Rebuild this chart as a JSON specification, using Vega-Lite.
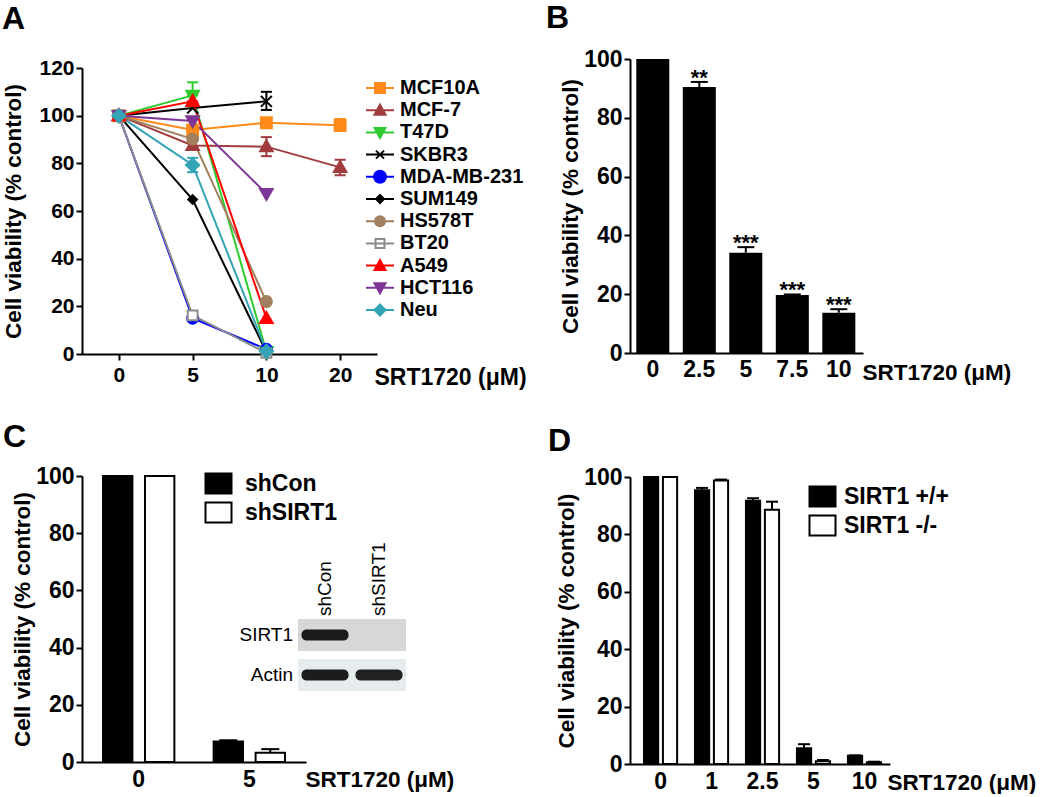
{
  "$schema": "https://vega.github.io/schema/vega-lite/v6.json",
  "padding": {"left": 2, "top": 2, "right": 0, "bottom": 0},
  "background": "white",
  "config": {
    "font": "Liberation Sans",
    "view": {"stroke": null},
    "axis": {"domainColor": "black", "domainWidth": 2, "tickColor": "black", "tickWidth": 2, "tickSize": 6, "labelFont": "Liberation Sans", "labelFontWeight": "bold", "labelFontSize": 23, "labelColor": "black", "titleFont": "Liberation Sans", "titleFontWeight": "bold", "titleFontSize": 22.5, "titleColor": "black", "grid": false},
    "axisY": {"labelPadding": 2},
    "title": {"font": "Liberation Sans", "fontSize": 32, "fontWeight": "bold", "anchor": "start", "frame": "group", "color": "black"},
    "legend": {"labelFont": "Liberation Sans", "labelFontWeight": "bold", "labelColor": "black"}
  },
  "datasets": {
    "a": [
      {"cell": "MCF10A", "dose": 0, "v": 100}, {"cell": "MCF10A", "dose": 5, "v": 94}, {"cell": "MCF10A", "dose": 10, "v": 97}, {"cell": "MCF10A", "dose": 20, "v": 96, "lo": 93.6, "hi": 98.6},
      {"cell": "MCF-7", "dose": 0, "v": 100}, {"cell": "MCF-7", "dose": 5, "v": 87.5}, {"cell": "MCF-7", "dose": 10, "v": 87, "lo": 83, "hi": 91}, {"cell": "MCF-7", "dose": 20, "v": 78.3, "lo": 75, "hi": 81.5},
      {"cell": "T47D", "dose": 0, "v": 100}, {"cell": "T47D", "dose": 5, "v": 108.5, "lo": 108.5, "hi": 114}, {"cell": "T47D", "dose": 10, "v": 1},
      {"cell": "SKBR3", "dose": 0, "v": 100}, {"cell": "SKBR3", "dose": 5, "v": 103.2}, {"cell": "SKBR3", "dose": 10, "v": 106, "lo": 102.4, "hi": 110},
      {"cell": "MDA-MB-231", "dose": 0, "v": 100}, {"cell": "MDA-MB-231", "dose": 5, "v": 15}, {"cell": "MDA-MB-231", "dose": 10, "v": 2},
      {"cell": "SUM149", "dose": 0, "v": 100}, {"cell": "SUM149", "dose": 5, "v": 64.8}, {"cell": "SUM149", "dose": 10, "v": 0.8},
      {"cell": "HS578T", "dose": 0, "v": 100}, {"cell": "HS578T", "dose": 5, "v": 90.2}, {"cell": "HS578T", "dose": 10, "v": 22},
      {"cell": "BT20", "dose": 0, "v": 100}, {"cell": "BT20", "dose": 5, "v": 16.2}, {"cell": "BT20", "dose": 10, "v": 0.5},
      {"cell": "A549", "dose": 0, "v": 100}, {"cell": "A549", "dose": 5, "v": 106, "lo": 106, "hi": 109.3}, {"cell": "A549", "dose": 10, "v": 15},
      {"cell": "HCT116", "dose": 0, "v": 100}, {"cell": "HCT116", "dose": 5, "v": 97.8}, {"cell": "HCT116", "dose": 10, "v": 67.3},
      {"cell": "Neu", "dose": 0, "v": 100}, {"cell": "Neu", "dose": 5, "v": 79.3, "lo": 76.3, "hi": 82.3}, {"cell": "Neu", "dose": 10, "v": 1.2}
    ],
    "b": [
      {"dose": 0, "v": 100},
      {"dose": 2.5, "v": 90.5, "hi": 92.2, "sig": "**"},
      {"dose": 5, "v": 34.1, "hi": 36.0, "sig": "***"},
      {"dose": 7.5, "v": 19.7, "hi": 19.9, "sig": "***"},
      {"dose": 10, "v": 13.7, "hi": 14.9, "sig": "***"}
    ],
    "c": [
      {"dose": 0, "grp": "shCon", "v": 100},
      {"dose": 0, "grp": "shSIRT1", "v": 100},
      {"dose": 5, "grp": "shCon", "v": 7.2, "hi": 7.6},
      {"dose": 5, "grp": "shSIRT1", "v": 3.2, "hi": 4.5}
    ],
    "blot": [
      {"lane": "shCon", "protein": "SIRT1", "intensity": 0.95},
      {"lane": "shSIRT1", "protein": "SIRT1", "intensity": 0},
      {"lane": "shCon", "protein": "Actin", "intensity": 0.95},
      {"lane": "shSIRT1", "protein": "Actin", "intensity": 0.93}
    ],
    "d": [
      {"dose": 0, "grp": "SIRT1 +/+", "v": 100},
      {"dose": 0, "grp": "SIRT1 -/-", "v": 100},
      {"dose": 1, "grp": "SIRT1 +/+", "v": 95.4, "hi": 96.2},
      {"dose": 1, "grp": "SIRT1 -/-", "v": 98.8, "hi": 99.1},
      {"dose": 2.5, "grp": "SIRT1 +/+", "v": 91.7, "hi": 92.6},
      {"dose": 2.5, "grp": "SIRT1 -/-", "v": 88.6, "hi": 91.4},
      {"dose": 5, "grp": "SIRT1 +/+", "v": 5.5, "hi": 6.9},
      {"dose": 5, "grp": "SIRT1 -/-", "v": 1.0, "hi": 1.4},
      {"dose": 10, "grp": "SIRT1 +/+", "v": 2.9, "hi": 3.0},
      {"dose": 10, "grp": "SIRT1 -/-", "v": 0.6, "hi": 0.8}
    ]
  },
  "hconcat": [
    {
      "vconcat": [
        {
          "title": {"text": "A", "offset": 21, "dx": -80},
          "width": 295,
          "height": 286,
          "data": {"name": "a"},
          "layer": [
            {
              "mark": {"type": "line", "strokeWidth": 2},
              "encoding": {
                "x": {"field": "dose", "type": "ordinal", "scale": {"type": "point", "domain": [0, 5, 10, 20], "padding": 0.5}, "axis": {"title": "SRT1720 (μM)", "labelAngle": 0, "labelFontSize": 21, "labelPadding": 4, "titleX": 292, "titleY": 30, "titleAlign": "left", "titleBaseline": "alphabetic", "titleFontSize": 23}},
                "y": {"field": "v", "type": "quantitative", "scale": {"domain": [0, 120]}, "axis": {"values": [0, 20, 40, 60, 80, 100, 120], "title": "Cell viability (% control)", "labelFontSize": 21, "titlePadding": 13}},
                "color": {"field": "cell", "type": "nominal", "scale": {"domain": ["MCF10A", "MCF-7", "T47D", "SKBR3", "MDA-MB-231", "SUM149", "HS578T", "BT20", "A549", "HCT116", "Neu"], "range": ["#FF8A1A", "#A23B3E", "#2FCB2F", "#000000", "#0000FF", "#000000", "#A0805E", "#8C8C8C", "#FF0000", "#7D3596", "#33A4B5"]}, "legend": null}
              }
            },
            {
              "transform": [{"filter": "isValid(datum.hi)"}],
              "mark": {"type": "rule", "strokeWidth": 2},
              "encoding": {
                "x": {"field": "dose", "type": "ordinal"},
                "y": {"field": "lo", "type": "quantitative"},
                "y2": {"field": "hi"},
                "color": {"field": "cell", "type": "nominal", "legend": null}
              }
            },
            {
              "transform": [{"filter": "isValid(datum.hi)"}, {"fold": ["lo", "hi"], "as": ["end", "ev"]}],
              "mark": {"type": "tick", "thickness": 2, "size": 11, "opacity": 1},
              "encoding": {
                "x": {"field": "dose", "type": "ordinal"},
                "y": {"field": "ev", "type": "quantitative"},
                "color": {"field": "cell", "type": "nominal", "legend": null}
              }
            },
            {
              "mark": {"type": "point", "filled": true, "size": 120, "opacity": 1, "strokeWidth": 2},
              "encoding": {
                "x": {"field": "dose", "type": "ordinal"},
                "y": {"field": "v", "type": "quantitative"},
                "fill": {"field": "cell", "type": "nominal", "scale": {"domain": ["MCF10A", "MCF-7", "T47D", "SKBR3", "MDA-MB-231", "SUM149", "HS578T", "BT20", "A549", "HCT116", "Neu"], "range": ["#FF8A1A", "#A23B3E", "#2FCB2F", "#000000", "#0000FF", "#000000", "#A0805E", "#FFFFFF", "#FF0000", "#7D3596", "#33A4B5"]}, "legend": null},
                "stroke": {"field": "cell", "type": "nominal", "scale": {"domain": ["MCF10A", "MCF-7", "T47D", "SKBR3", "MDA-MB-231", "SUM149", "HS578T", "BT20", "A549", "HCT116", "Neu"], "range": ["#FF8A1A", "#A23B3E", "#2FCB2F", "#000000", "#0000FF", "#000000", "#A0805E", "#8C8C8C", "#FF0000", "#7D3596", "#33A4B5"]}, "legend": null},
                "shape": {"field": "cell", "type": "nominal", "scale": {"domain": ["MCF10A", "MCF-7", "T47D", "SKBR3", "MDA-MB-231", "SUM149", "HS578T", "BT20", "A549", "HCT116", "Neu"], "range": ["M-1,-1H1V1H-1Z", "M0,-1.15L1.15,0.85H-1.15Z", "M0,1.15L1.15,-0.85H-1.15Z", "M-1,-1L1,1M-1,1L1,-1", "M1,0A1,1,0,1,1,-1,0A1,1,0,1,1,1,0Z", "M0,-0.8L0.8,0L0,0.8L-0.8,0Z", "M1,0A1,1,0,1,1,-1,0A1,1,0,1,1,1,0Z", "M-0.9,-0.9H0.9V0.9H-0.9Z", "M0,-1.15L1.15,0.85H-1.15Z", "M0,1.15L1.15,-0.85H-1.15Z", "M0,-1.2L1.2,0L0,1.2L-1.2,0Z"]}, "legend": null}
              }
            },
            {
              "transform": [{"filter": "false"}],
              "mark": {"type": "point", "filled": true, "size": 400, "opacity": 1, "strokeWidth": 2},
              "encoding": {
                "fill": {"field": "cell", "type": "nominal", "scale": {"domain": ["MCF10A", "MCF-7", "T47D", "SKBR3", "MDA-MB-231", "SUM149", "HS578T", "BT20", "A549", "HCT116", "Neu"], "range": ["#FF8A1A", "#A23B3E", "#2FCB2F", "#000000", "#0000FF", "#000000", "#A0805E", "#FFFFFF", "#FF0000", "#7D3596", "#33A4B5"]}, "legend": {"title": null, "orient": "none", "legendX": 287, "legendY": 9, "padding": 0, "labelFontSize": 20, "symbolSize": 400, "symbolStrokeWidth": 2, "labelOffset": 9, "rowPadding": 1.2}},
                "stroke": {"field": "cell", "type": "nominal", "scale": {"domain": ["MCF10A", "MCF-7", "T47D", "SKBR3", "MDA-MB-231", "SUM149", "HS578T", "BT20", "A549", "HCT116", "Neu"], "range": ["#FF8A1A", "#A23B3E", "#2FCB2F", "#000000", "#0000FF", "#000000", "#A0805E", "#8C8C8C", "#FF0000", "#7D3596", "#33A4B5"]}, "legend": {"title": null, "orient": "none", "legendX": 287, "legendY": 9, "padding": 0, "labelFontSize": 20, "symbolSize": 400, "symbolStrokeWidth": 2, "labelOffset": 9, "rowPadding": 1.2}},
                "shape": {"field": "cell", "type": "nominal", "scale": {"domain": ["MCF10A", "MCF-7", "T47D", "SKBR3", "MDA-MB-231", "SUM149", "HS578T", "BT20", "A549", "HCT116", "Neu"], "range": ["M-1.4,0H1.4M-0.5,-0.5H0.5V0.5H-0.5Z", "M-1.4,0H1.4M0,-0.55L0.55,0.45H-0.55Z", "M-1.4,0H1.4M0,0.55L0.55,-0.45H-0.55Z", "M-1.4,0H1.4M-0.4,-0.4L0.4,0.4M-0.4,0.4L0.4,-0.4", "M-1.4,0H1.4M0.6,0A0.6,0.6,0,1,1,-0.6,0A0.6,0.6,0,1,1,0.6,0Z", "M-1.4,0H1.4M0,-0.4L0.4,0L0,0.4L-0.4,0Z", "M-1.4,0H1.4M0.5,0A0.5,0.5,0,1,1,-0.5,0A0.5,0.5,0,1,1,0.5,0Z", "M-1.4,0H1.4M-0.45,-0.45H0.45V0.45H-0.45Z", "M-1.4,0H1.4M0,-0.55L0.55,0.45H-0.55Z", "M-1.4,0H1.4M0,0.55L0.55,-0.45H-0.55Z", "M-1.4,0H1.4M0,-0.55L0.55,0L0,0.55L-0.55,0Z"]}, "legend": {"title": null, "orient": "none", "legendX": 287, "legendY": 9, "padding": 0, "labelFontSize": 20, "symbolSize": 400, "symbolStrokeWidth": 2, "labelOffset": 9, "rowPadding": 1.2}}
              }
            }
          ],
          "resolve": {"scale": {"fill": "independent", "stroke": "independent", "shape": "independent"}}
        },
        {
          "title": {"text": "C", "offset": 11, "dx": -79},
          "width": 224,
          "height": 286,
          "layer": [
            {
              "data": {"name": "c"},
              "encoding": {
                "x": {"field": "dose", "type": "ordinal", "scale": {"domain": [0, 5], "paddingInner": 0.355, "paddingOuter": 0.19}, "axis": {"title": "SRT1720 (μM)", "labelAngle": 0, "ticks": false, "labelPadding": 6, "titleX": 223, "titleY": 24, "titleAlign": "left", "titleBaseline": "alphabetic"}},
                "xOffset": {"field": "grp", "type": "nominal", "scale": {"domain": ["shCon", "shSIRT1"], "paddingInner": 0.3, "paddingOuter": 0}}
              },
              "layer": [
                {
                  "mark": {"type": "bar", "stroke": "black", "strokeWidth": 2},
                  "encoding": {
                    "y": {"field": "v", "type": "quantitative", "scale": {"domain": [0, 100]}, "axis": {"values": [0, 20, 40, 60, 80, 100], "title": "Cell viability (% control)", "titlePadding": 1}},
                    "fill": {"field": "grp", "type": "nominal", "scale": {"domain": ["shCon", "shSIRT1"], "range": ["black", "white"]}, "legend": {"title": null, "orient": "none", "legendX": 125, "legendY": -4, "padding": 0, "labelFontSize": 23, "symbolType": "M-2.6,-2H2.6V2H-2.6Z", "symbolSize": 100, "symbolStrokeColor": "black", "symbolStrokeWidth": 2, "labelOffset": 15, "rowPadding": 0}}
                  }
                },
                {
                  "transform": [{"filter": "isValid(datum.hi)"}],
                  "mark": {"type": "rule", "strokeWidth": 2, "color": "black"},
                  "encoding": {"y": {"field": "v", "type": "quantitative"}, "y2": {"field": "hi"}}
                },
                {
                  "transform": [{"filter": "isValid(datum.hi)"}],
                  "mark": {"type": "tick", "thickness": 2, "size": 18, "color": "black", "opacity": 1},
                  "encoding": {"y": {"field": "hi", "type": "quantitative"}}
                }
              ]
            },
            {
              "data": {"name": "blot"},
              "encoding": {
                "x": {"field": "lane", "type": "nominal", "scale": {"type": "band", "domain": ["shCon", "shSIRT1"], "range": [216, 324], "paddingInner": 0, "paddingOuter": 0}, "axis": null},
                "y": {"field": "protein", "type": "nominal", "scale": {"type": "band", "domain": ["SIRT1", "Actin"], "range": [143, 215], "paddingInner": 0.2, "paddingOuter": 0}, "axis": null}
              },
              "layer": [
                {
                  "mark": {"type": "rect"},
                  "encoding": {"fill": {"field": "protein", "type": "nominal", "scale": {"domain": ["SIRT1", "Actin"], "range": ["#d7d7d7", "#e6eced"]}, "legend": null}}
                },
                {
                  "mark": {"type": "tick", "orient": "horizontal", "size": 47, "thickness": 11, "cornerRadius": 5, "color": "#111111"},
                  "encoding": {"opacity": {"field": "intensity", "type": "quantitative", "scale": {"domain": [0, 1], "range": [0, 1]}, "legend": null}}
                },
                {
                  "transform": [{"filter": "datum.protein == 'SIRT1'"}],
                  "mark": {"type": "text", "angle": 270, "align": "left", "baseline": "middle", "fontSize": 19, "dx": 3, "color": "black"},
                  "encoding": {"y": {"field": "protein", "type": "nominal", "bandPosition": 0}, "text": {"field": "lane"}}
                },
                {
                  "transform": [{"filter": "datum.lane == 'shCon'"}],
                  "mark": {"type": "text", "align": "right", "baseline": "middle", "fontSize": 19, "dx": -5, "color": "black"},
                  "encoding": {"x": {"field": "lane", "type": "nominal", "bandPosition": 0}, "text": {"field": "protein"}}
                }
              ]
            }
          ],
          "resolve": {"scale": {"x": "independent", "y": "independent", "fill": "independent"}}
        }
      ],
      "spacing": 32,
      "resolve": {"scale": {"color": "independent", "fill": "independent", "stroke": "independent", "shape": "independent", "opacity": "independent", "xOffset": "independent"}}
    },
    {
      "vconcat": [
        {
          "title": {"text": "B", "offset": 13, "dx": -84},
          "width": 233,
          "height": 285,
          "data": {"name": "b"},
          "encoding": {
            "x": {"field": "dose", "type": "ordinal", "scale": {"domain": [0, 2.5, 5, 7.5, 10], "paddingInner": 0.29, "paddingOuter": 0.15, "align": 0.45}, "axis": {"title": "SRT1720 (μM)", "labelAngle": 0, "ticks": false, "labelPadding": 5, "titleX": 232, "titleY": 26, "titleAlign": "left", "titleBaseline": "alphabetic"}}
          },
          "layer": [
            {
              "mark": {"type": "bar", "color": "black"},
              "encoding": {
                "y": {"field": "v", "type": "quantitative", "scale": {"domain": [0, 100], "range": [285, -9]}, "axis": {"values": [0, 20, 40, 60, 80, 100], "title": "Cell viability (% control)", "titlePadding": 1}}
              }
            },
            {
              "transform": [{"filter": "isValid(datum.hi)"}],
              "mark": {"type": "rule", "strokeWidth": 2, "color": "black"},
              "encoding": {"y": {"field": "v", "type": "quantitative"}, "y2": {"field": "hi"}}
            },
            {
              "transform": [{"filter": "isValid(datum.hi)"}],
              "mark": {"type": "tick", "thickness": 2, "size": 17, "color": "black", "opacity": 1},
              "encoding": {"y": {"field": "hi", "type": "quantitative"}}
            },
            {
              "transform": [{"filter": "isValid(datum.sig)"}],
              "mark": {"type": "text", "fontSize": 22, "fontWeight": "bold", "baseline": "alphabetic", "dy": 3, "color": "black"},
              "encoding": {"y": {"field": "hi", "type": "quantitative"}, "text": {"field": "sig"}}
            }
          ]
        },
        {
          "title": {"text": "D", "offset": 8, "dx": -82},
          "width": 260,
          "height": 287,
          "data": {"name": "d"},
          "encoding": {
            "x": {"field": "dose", "type": "ordinal", "scale": {"domain": [0, 1, 2.5, 5, 10], "paddingInner": 0.35, "paddingOuter": 0.225, "align": 0.61}, "axis": {"title": "SRT1720 (μM)", "labelAngle": 0, "ticks": false, "labelPadding": 6, "titleX": 257, "titleY": 25, "titleAlign": "left", "titleBaseline": "alphabetic"}},
            "xOffset": {"field": "grp", "type": "nominal", "scale": {"domain": ["SIRT1 +/+", "SIRT1 -/-"], "paddingInner": 0.25, "paddingOuter": 0}}
          },
          "layer": [
            {
              "mark": {"type": "bar", "stroke": "black", "strokeWidth": 2},
              "encoding": {
                "y": {"field": "v", "type": "quantitative", "scale": {"domain": [0, 100]}, "axis": {"values": [0, 20, 40, 60, 80, 100], "title": "Cell viability (% control)", "titlePadding": 5}},
                "fill": {"field": "grp", "type": "nominal", "scale": {"domain": ["SIRT1 +/+", "SIRT1 -/-"], "range": ["black", "white"]}, "legend": {"title": null, "orient": "none", "legendX": 181, "legendY": 8, "padding": 0, "labelFontSize": 23, "symbolType": "M-2.6,-2H2.6V2H-2.6Z", "symbolSize": 100, "symbolStrokeColor": "black", "symbolStrokeWidth": 2, "labelOffset": 10, "rowPadding": 0}}
              }
            },
            {
              "transform": [{"filter": "isValid(datum.hi)"}],
              "mark": {"type": "rule", "strokeWidth": 2, "color": "black"},
              "encoding": {"y": {"field": "v", "type": "quantitative"}, "y2": {"field": "hi"}}
            },
            {
              "transform": [{"filter": "isValid(datum.hi)"}],
              "mark": {"type": "tick", "thickness": 2, "size": 12, "color": "black", "opacity": 1},
              "encoding": {"y": {"field": "hi", "type": "quantitative"}}
            }
          ]
        }
      ],
      "spacing": 41,
      "resolve": {"scale": {"color": "independent", "fill": "independent", "stroke": "independent", "shape": "independent", "opacity": "independent", "xOffset": "independent"}}
    }
  ],
  "spacing": 19,
  "resolve": {"scale": {"color": "independent", "fill": "independent", "stroke": "independent", "shape": "independent", "opacity": "independent", "xOffset": "independent"}}
}
